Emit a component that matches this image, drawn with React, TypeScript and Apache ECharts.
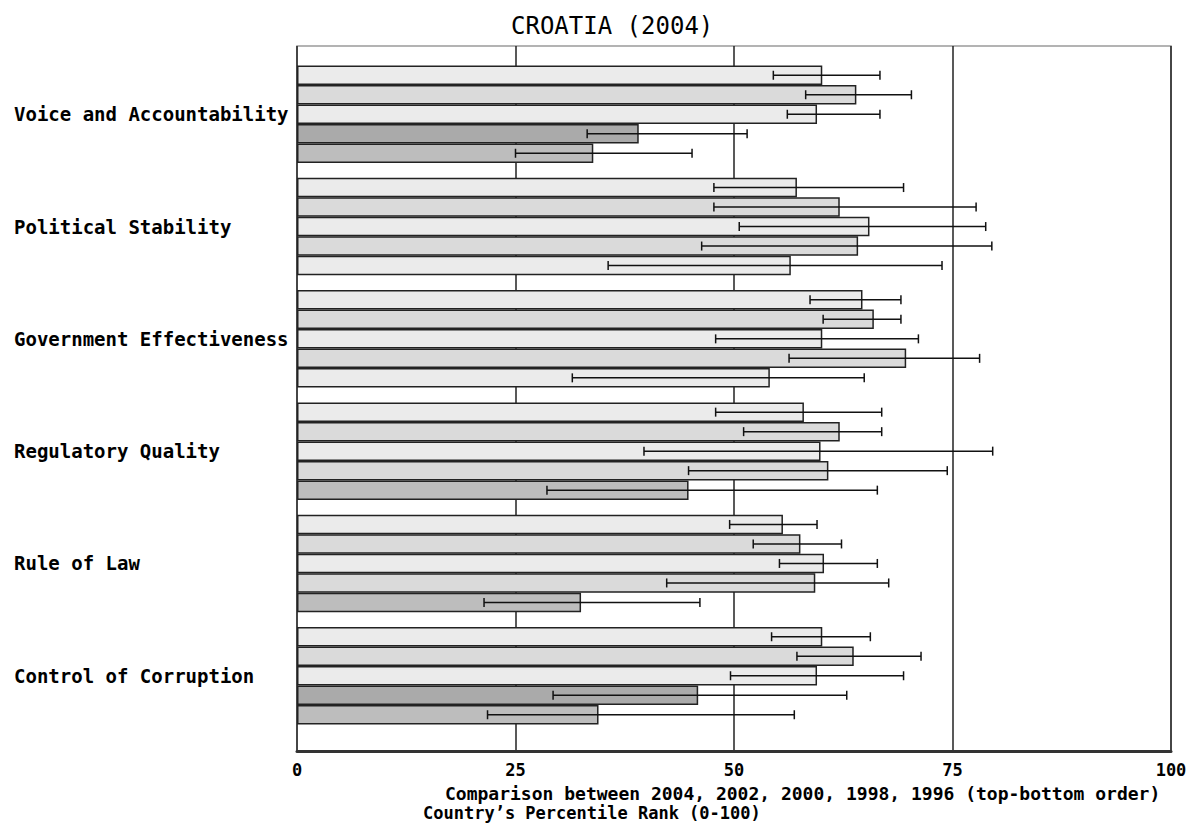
import React, { useEffect, useRef } from "react";
import * as echarts from "echarts";

const categories = [
  "Voice and Accountability",
  "Political Stability",
  "Government Effectiveness",
  "Regulatory Quality",
  "Rule of Law",
  "Control of Corruption",
];
const years = ["2004", "2002", "2000", "1998", "1996"];

// percentile rank per year (top-bottom order within group)
const rank2004 = [60.1, 57.2, 64.7, 58.0, 55.6, 60.1];
const rank2002 = [64.0, 62.1, 66.0, 62.1, 57.6, 63.7];
const rank2000 = [59.5, 65.5, 60.1, 59.9, 60.3, 59.5];
const rank1998 = [39.1, 64.2, 69.7, 60.8, 59.3, 45.9];
const rank1996 = [33.9, 56.5, 54.1, 44.8, 32.5, 34.5];

const low2004 = [54.5, 47.7, 58.7, 47.9, 49.5, 54.3];
const high2004 = [66.7, 69.4, 69.1, 66.9, 59.5, 65.6];
const low2002 = [58.2, 47.7, 60.2, 51.1, 52.2, 57.2];
const high2002 = [70.3, 77.7, 69.1, 66.9, 62.3, 71.4];
const low2000 = [56.1, 50.6, 47.9, 39.7, 55.2, 49.6];
const high2000 = [66.7, 78.8, 71.1, 79.6, 66.4, 69.4];
const low1998 = [33.2, 46.3, 56.3, 44.8, 42.3, 29.3];
const high1998 = [51.5, 79.5, 78.1, 74.4, 67.7, 62.9];
const low1996 = [25.0, 35.6, 31.5, 28.6, 21.4, 21.8];
const high1996 = [45.2, 73.8, 64.9, 66.4, 46.1, 56.9];

// flag: bar drawn in darker shade
const dark1998 = [true, false, false, false, false, true];
const dark1996 = [true, false, false, true, true, true];

const xTicks = [0, 25, 50, 75, 100];

const MONO = "'DejaVu Sans Mono', 'Liberation Mono', monospace";

export default function App() {
  const ref = useRef<HTMLDivElement>(null);

  useEffect(() => {
    if (!ref.current) return;
    const chart = echarts.init(ref.current, null, { renderer: "svg" });

    const ranks = [rank2004, rank2002, rank2000, rank1998, rank1996];
    const lows = [low2004, low2002, low2000, low1998, low1996];
    const highs = [high2004, high2002, high2000, high1998, high1996];
    const baseColors = ["#ebebeb", "#dadada", "#ebebeb", "#dadada", "#ebebeb"];
    const darkColors = ["#ebebeb", "#dadada", "#ebebeb", "#aaaaaa", "#bdbdbd"];
    const darkFlags: (boolean[] | null)[] = [null, null, null, dark1998, dark1996];

    const BAR_H = 19.5;

    const barSeries = years.map((y, k) => ({
      type: "bar",
      name: y,
      xAxisIndex: 1,
      yAxisIndex: 1,
      barWidth: BAR_H,
      barGap: "0%",
      z: 3,
      data: ranks[k].map((v, i) => ({
        value: v,
        itemStyle: {
          color:
            darkFlags[k] && darkFlags[k]![i] ? darkColors[k] : baseColors[k],
          borderColor: "#222",
          borderWidth: 1.5,
        },
      })),
    }));

    const errData: number[][] = [];
    years.forEach((_, k) => {
      categories.forEach((_, i) => {
        errData.push([lows[k][i], i, highs[k][i], k]);
      });
    });

    const errSeries = {
      type: "custom",
      xAxisIndex: 1,
      yAxisIndex: 1,
      z: 5,
      encode: { x: [0, 2], y: 1 },
      data: errData,
      renderItem: (params: any, api: any) => {
        const lo = api.value(0);
        const cat = api.value(1);
        const hi = api.value(2);
        const k = api.value(3);
        const pLo = api.coord([lo, cat]);
        const pHi = api.coord([hi, cat]);
        const y = pLo[1] + (k - 2) * BAR_H;
        const cap = 4.5;
        const style = { stroke: "#111", lineWidth: 1.5 };
        return {
          type: "group",
          children: [
            { type: "line", shape: { x1: pLo[0], y1: y, x2: pHi[0], y2: y }, style },
            { type: "line", shape: { x1: pLo[0], y1: y - cap, x2: pLo[0], y2: y + cap }, style },
            { type: "line", shape: { x1: pHi[0], y1: y - cap, x2: pHi[0], y2: y + cap }, style },
          ],
        };
      },
    };

    const option: any = {
      animation: false,
      backgroundColor: "#ffffff",
      title: {
        text: "CROATIA (2004)",
        left: 506,
        top: 9,
        textStyle: {
          fontFamily: MONO,
          fontSize: 24,
          fontWeight: "normal",
          color: "#000",
        },
      },
      grid: [
        {
          left: 297,
          top: 46,
          width: 874,
          height: 705,
          show: true,
          borderColor: "#9a9a9a",
          borderWidth: 1.5,
          backgroundColor: "transparent",
        },
        {
          left: 297,
          top: 58.1,
          width: 874,
          height: 673.8,
        },
      ],
      xAxis: [
        {
          gridIndex: 0,
          type: "value",
          min: xTicks[0],
          max: xTicks[xTicks.length - 1],
          interval: 25,
          axisLine: { show: true, lineStyle: { color: "#333", width: 3 } },
          axisTick: { show: false },
          splitLine: { show: true, lineStyle: { color: "#222", width: 1.5 } },
          axisLabel: {
            margin: 10,
            fontFamily: MONO,
            fontWeight: "bold",
            fontSize: 17,
            color: "#000",
            formatter: (v: number) => (xTicks.includes(v) ? String(v) : ""),
          },
        },
        {
          gridIndex: 1,
          type: "value",
          min: 0,
          max: 100,
          show: false,
        },
      ],
      yAxis: [
        {
          gridIndex: 0,
          type: "value",
          min: 0,
          max: 1,
          show: false,
        },
        {
          gridIndex: 1,
          type: "category",
          inverse: true,
          data: categories,
          axisLine: { show: false },
          axisTick: { show: false },
          splitLine: { show: false },
          axisLabel: {
            align: "left",
            margin: 283,
            fontFamily: MONO,
            fontWeight: "bold",
            fontSize: 19,
            color: "#000",
          },
        },
      ],
      graphic: [
        {
          type: "text",
          left: 445,
          top: 784,
          style: {
            text: "Comparison between 2004, 2002, 2000, 1998, 1996 (top-bottom order)",
            fontFamily: MONO,
            fontWeight: "bold",
            fontSize: 18,
            lineHeight: 17,
            fill: "#000",
          },
        },
        {
          type: "text",
          left: 423,
          top: 804,
          style: {
            text: "Country\u2019s Percentile Rank (0-100)",
            fontFamily: MONO,
            fontWeight: "bold",
            fontSize: 17,
            lineHeight: 17,
            fill: "#000",
          },
        },
      ],
      series: [...barSeries, errSeries],
    };

    chart.setOption(option);
    return () => chart.dispose();
  }, []);

  return (
    <div
      ref={ref}
      style={{
        position: "absolute",
        left: 0,
        top: 0,
        width: 1195,
        height: 823,
        background: "#fff",
      }}
    />
  );
}
